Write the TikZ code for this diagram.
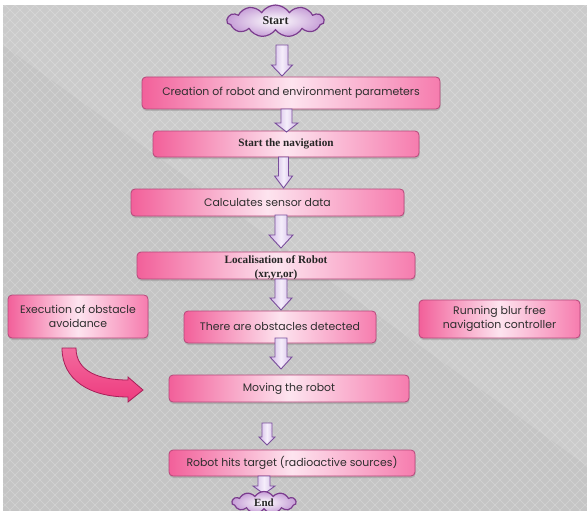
\documentclass[tikz,border=0pt]{standalone}
\usepackage{fontspec}
\setmainfont{Liberation Serif}
\newfontfamily\gothic{Poppins}
\usetikzlibrary{shapes.symbols,shadows}
\definecolor{bgdark}{HTML}{C5C5C5}
\definecolor{bglight}{HTML}{CBCBCB}
\definecolor{pinkedge}{HTML}{F2609A}
\definecolor{pinkright}{HTML}{F67CAE}
\definecolor{pinkmid}{HTML}{FDE4EF}
\definecolor{pinkborder}{HTML}{B5487A}
\definecolor{lavfill}{HTML}{D2B9E6}
\definecolor{lavmid}{HTML}{F5EEFB}
\definecolor{lavborder}{HTML}{7A4E9C}
\definecolor{cloudborder}{HTML}{7B3C8E}
\definecolor{hotpink}{HTML}{EE3A7E}
\definecolor{hotpinkborder}{HTML}{A81E58}
\definecolor{txt}{HTML}{2E2E2E}
\tikzset{
  pinkbox/.style={rectangle, rounded corners=4pt, draw=pinkborder, line width=0.8pt,
    left color=pinkedge, right color=pinkright, middle color=pinkmid,
    drop shadow={shadow xshift=0.6pt, shadow yshift=-2pt, opacity=0.35},
    inner sep=0pt, align=center, text=txt},
  sanstext/.style={font=\gothic\fontsize{10.9}{14}\selectfont},
  serifbold/.style={font=\bfseries\fontsize{11.2}{14}\selectfont, text=black!85},
  blockarr/.style={draw=lavborder, line width=0.9pt, line join=miter,
    left color=lavfill, right color=lavfill, middle color=lavmid},
  cloudnode/.style={cloud, cloud puffs=11, cloud puff arc=115, aspect=3,
    draw=cloudborder, line width=1.2pt, inner color=white, outer color=lavfill!85!violet,
    inner sep=0pt, font=\bfseries\fontsize{12}{14}\selectfont, text=black!85},
}
% block arrow: x, ytop, ybottom, shaft half width, head half width, head length
\newcommand\blockarrow[6]{%
  \draw[blockarr] (#1-#4,#2) -- (#1+#4,#2) -- (#1+#4,#3-#6) -- (#1+#5,#3-#6)
    -- (#1,#3) -- (#1-#5,#3-#6) -- (#1-#4,#3-#6) -- cycle;}
\begin{document}
\begin{tikzpicture}[x=1pt,y=-1pt]
\useasboundingbox (0,0) rectangle (587,511);
% background
\fill[bgdark] (0,0) rectangle (587,511);
\fill[bglight] (0,0) -- (587,0) -- (587,466) -- (0,43) -- cycle;
\begin{scope}
  \clip (0,0) rectangle (587,511);
  \foreach \k in {-520,-510,...,600} {
    \draw[white, opacity=0.25, line width=0.6pt] (\k,0) -- ++(520,520);
    \draw[white, opacity=0.25, line width=0.6pt] (\k+520,0) -- ++(-520,520);
  }
\end{scope}
\fill[white] (0,0) rectangle (587,5);
\fill[white] (0,0) rectangle (3,511);

% start cloud
\node[cloudnode, minimum width=97pt, minimum height=32pt] (start) at (275.5,21) {Start};

% main boxes
\node[pinkbox, sanstext, minimum width=298pt, minimum height=32pt] (c1) at (291,93)
  {Creation of robot and environment parameters};
\node[pinkbox, serifbold, minimum width=266pt, minimum height=26pt] (c2) at (286,144)
  {Start the navigation};
\node[pinkbox, sanstext, minimum width=273pt, minimum height=27pt] (c3) at (267.5,202.5)
  {Calculates sensor data};
\node[pinkbox, minimum width=278pt, minimum height=27pt] (c4) at (276,265.5) {};
\node[serifbold, align=center, inner sep=0pt] (c4t) at (276,268)
  {Localisation of Robot\\(xr,yr,or)};
\node[pinkbox, sanstext, minimum width=192pt, minimum height=32pt] (c5) at (280,327)
  {There are obstacles detected};
\node[pinkbox, sanstext, minimum width=240pt, minimum height=27pt] (c6) at (289,388.5)
  {Moving the robot};
\node[pinkbox, sanstext, minimum width=246pt, minimum height=26pt] (c7) at (292,463)
  {Robot hits target (radioactive sources)};
\node[pinkbox, sanstext, minimum width=140pt, minimum height=43pt] (ex) at (78,316.5)
  {Execution of obstacle\\avoidance};
\node[pinkbox, sanstext, minimum width=161pt, minimum height=38pt] (run) at (499.5,319)
  {Running blur free\\navigation controller};

% block arrows
\blockarrow{282}{45}{76}{6}{10.5}{11}
\blockarrow{286.5}{109}{132}{5.5}{11.5}{9}
\blockarrow{283.5}{157}{188}{5}{9}{12}
\blockarrow{281}{215}{248}{6}{12}{13}
\blockarrow{281}{279}{310}{6}{11}{12}
\blockarrow{281}{338}{369}{6}{11}{12}
\blockarrow{267}{423}{445}{5}{8}{8}
\blockarrow{264}{476}{494}{6}{11}{8}

% end cloud
\begin{scope}
  \clip (0,0) rectangle (587,511);
  \node[cloudnode, minimum width=64pt, minimum height=22pt, font=\bfseries\fontsize{11}{13}\selectfont] (end) at (264,502.5) {End};
\end{scope}

% curved arrow
\draw[hotpinkborder, line width=0.8pt, top color=hotpink!75!white, bottom color=hotpink, line join=miter]
  (62,348) .. controls (62,380) and (90,397) .. (128,397) -- (128,402) -- (143,390)
  -- (128,377) -- (128,380) .. controls (100,380) and (76,372) .. (76,348) -- cycle;
\end{tikzpicture}
\end{document}
